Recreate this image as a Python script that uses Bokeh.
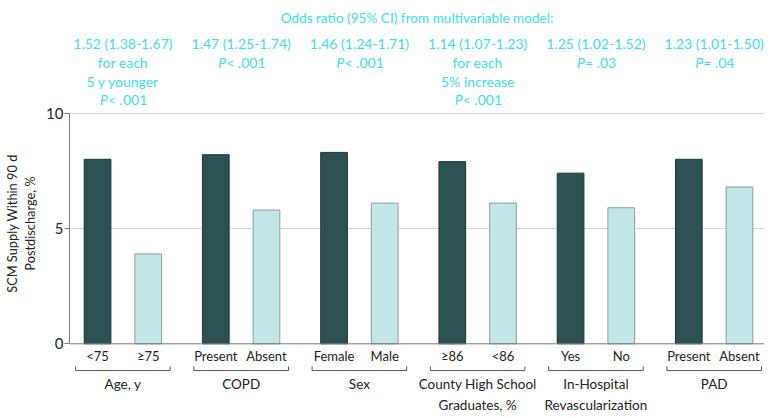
from bokeh.plotting import figure
from bokeh.models import Range1d, FixedTicker, Span, ColumnDataSource
from bokeh.core.properties import value
from bokeh.embed import file_html
from bokeh.resources import INLINE

# ---- data ----
groups = ["Age, y", "COPD", "Sex", "County High School\nGraduates, %",
          "In-Hospital\nRevascularization", "PAD"]
first_labels = ["<75", "Present", "Female", "\u226586", "Yes", "Present"]
second_labels = ["\u226575", "Absent", "Male", "<86", "No", "Absent"]
first_values = [8.0, 8.2, 8.3, 7.9, 7.4, 8.0]
second_values = [3.9, 5.8, 6.1, 6.1, 5.9, 6.8]
odds_ratios = ["1.52 (1.38-1.67)", "1.47 (1.25-1.74)", "1.46 (1.24-1.71)",
               "1.14 (1.07-1.23)", "1.25 (1.02-1.52)", "1.23 (1.01-1.50)"]
or_notes = [["for each", "5 y younger"], [], [], ["for each", "5% increase"], [], []]
p_values = ["< .001", "< .001", "< .001", "< .001", "= .03", "= .04"]
header = "Odds ratio (95% CI) from multivariable model:"
y_ticks = [0, 5, 10]
y_label = "SCM Supply Within 90 d\nPostdischarge, %"

FONT = "Lato"
CYAN = "#3ddde6"
DARK = "#2b5250"
LIGHT = "#c3e6e6"
TEXT = "#222222"
AXIS = "#7a7a7a"

SPACING = 7.0
OFF = 1.5
n = len(groups)
centers = [SPACING * i for i in range(n)]
x1 = [c - OFF for c in centers]
x2 = [c + OFF for c in centers]

p = figure(width=764, height=414, output_backend="svg", toolbar_location=None,
           x_range=Range1d(-3.16, 37.98), y_range=Range1d(-3.066, 13.50),
           x_axis_location=None,
           min_border_left=60, min_border_right=0, min_border_top=32,
           min_border_bottom=0)
p.outline_line_color = None
p.xgrid.visible = False
p.ygrid.ticker = FixedTicker(ticks=[5, 10])
p.ygrid.grid_line_color = "#d6d6d6"

# title (header)
p.title.text = header
p.title.align = "center"
p.title.text_font = FONT
p.title.text_font_size = "13.6px"
p.title.text_font_style = "normal"
p.title.text_color = CYAN
p.title.standoff = 14

p.vbar(x=x1, top=first_values, width=1.58, bottom=0, fill_color=DARK,
       line_color="#1c3634", line_width=1)
p.vbar(x=x2, top=second_values, width=1.58, bottom=0, fill_color=LIGHT,
       line_color="#8c9c9c", line_width=1)

# baseline (x axis line at 0)
p.add_layout(Span(location=0, dimension="width", line_color=AXIS, line_width=1))

# y axis
ya = p.yaxis[0]
ya.ticker = FixedTicker(ticks=y_ticks)
ya.bounds = (0, 10)
ya.axis_line_color = AXIS
ya.major_tick_line_color = AXIS
ya.major_tick_out = 5
ya.major_tick_in = 0
ya.minor_tick_line_color = None
ya.major_label_standoff = 1
ya.major_label_text_font = FONT
ya.major_label_text_font_size = "15px"
ya.major_label_text_color = TEXT
ya.axis_label = y_label
ya.axis_label_text_font = FONT
ya.axis_label_text_font_size = "12.8px"
ya.axis_label_text_font_style = "normal"
ya.axis_label_text_color = TEXT
ya.axis_label_text_line_height = 1.15
ya.axis_label_standoff = 5

F = value(FONT)

# category labels
p.text(x=x1 + x2, y=[-0.51] * (2 * n), text=first_labels + second_labels,
       text_align="center", text_baseline="middle", text_font=F,
       text_font_size="13px", text_color=TEXT)

# brackets
half = 2.8
bx0, bx1, by0, by1 = [], [], [], []
for c in centers:
    bx0 += [c - half, c - half, c + half]
    bx1 += [c + half, c - half, c + half]
    by0 += [-1.16, -1.16, -1.16]
    by1 += [-1.16, -0.98, -0.98]
p.segment(x0=bx0, y0=by0, x1=bx1, y1=by1, line_color="#555555", line_width=1)

# group labels
p.text(x=centers, y=[-1.40] * n, text=groups, text_align="center", text_baseline="top",
       text_font=F, text_font_size="13.5px", text_color=TEXT, text_line_height=1.3)

# odds ratio annotations
row_y = [13.02, 12.19, 11.37, 10.58]
ax, ay, at = [], [], []
px, py, pt, pxo = [], [], [], []
for c, orv, notes, pv in zip(centers, odds_ratios, or_notes, p_values):
    lines = [orv] + notes
    for k, t in enumerate(lines):
        ax.append(c)
        ay.append(row_y[k])
        at.append(t)
    px.append(c)
    py.append(row_y[len(lines)])
    pt.append(pv)
    pxo.append(-15 if pv.startswith("<") else -11)

p.text(x=ax, y=ay, text=at, text_align="center", text_baseline="middle",
       text_font=F, text_font_size="14px", text_color=CYAN)
src = ColumnDataSource(dict(x=px, y=py, t=pt, xo=pxo, P=["P"] * n))
p.text(x="x", y="y", text="P", x_offset="xo", source=src, text_align="right",
       text_baseline="middle", text_font=F, text_font_size="14px",
       text_font_style="italic", text_color=CYAN)
p.text(x="x", y="y", text="t", x_offset="xo", source=src, text_align="left",
       text_baseline="middle", text_font=F, text_font_size="14px", text_color=CYAN)

open("out.html", "w").write(file_html(p, INLINE))
